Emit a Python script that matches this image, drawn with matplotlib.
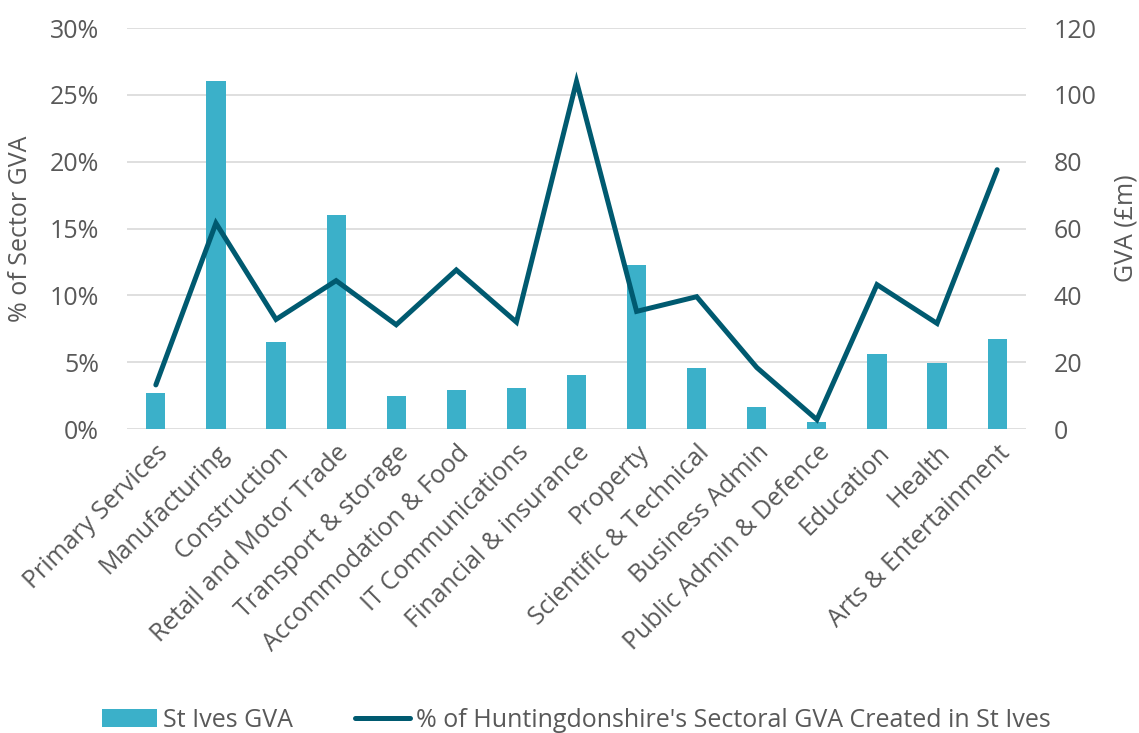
import numpy as np
import matplotlib.pyplot as plt
from matplotlib.ticker import FuncFormatter

plt.rcParams["font.family"] = ["Open Sans", "DejaVu Sans"]

# ------------------------------------------- data
sectors = [
    "Primary Services", "Manufacturing", "Construction", "Retail and Motor Trade",
    "Transport & storage", "Accommodation & Food", "IT Communications",
    "Financial & insurance", "Property", "Scientific & Technical",
    "Business Admin", "Public Admin & Defence", "Education", "Health",
    "Arts & Entertainment",
]
gva_m = [10.8, 104.2, 26.0, 64.1, 9.9, 11.6, 12.4, 16.2, 49.1, 18.2, 6.5, 2.1, 22.5, 19.7, 26.9]
pct_share = [3.3, 15.4, 8.2, 11.1, 7.8, 11.9, 8.0, 26.0, 8.8, 9.9, 4.6, 0.7, 10.8, 7.9, 19.4]

bar_label = "St Ives GVA"
line_label = "% of Huntingdonshire's Sectoral GVA Created in St Ives"

TEXT = "#595959"
BAR = "#3BB0C9"
LINE = "#005A70"
GRID = "#D9D9D9"
FS = 18

# ------------------------------------------- figure
fig = plt.figure(figsize=(11.39, 7.33), dpi=100, facecolor="white")
ax = fig.add_axes([0.1115, 0.4147, 0.7893, 0.5471])
ax2 = ax.twinx()

x = np.arange(len(sectors))

# bars on the right (GVA) axis, behind the line
ax2.bar(x, gva_m, width=0.32, color=BAR, zorder=3, label=bar_label)
ax2.set_ylim(0, 120)
ax2.set_yticks(np.arange(0, 121, 20))
ax2.grid(axis="y", color=GRID, linewidth=1.2, zorder=0)
ax2.set_axisbelow(True)
ax2.set_ylabel("GVA (£m)", color=TEXT, fontsize=FS)
ax2.yaxis.set_label_coords(1.097, 0.5)

# line on the left (%) axis
ax.plot(x, pct_share, color=LINE, linewidth=3.6, solid_capstyle="round",
        solid_joinstyle="miter", zorder=5, label=line_label)
ax.set_ylim(0, 30)
ax.set_yticks(np.arange(0, 31, 5))
ax.yaxis.set_major_formatter(FuncFormatter(lambda v, p: f"{v:.0f}%"))
ax.set_ylabel("% of Sector GVA", color=TEXT, fontsize=FS)
ax.yaxis.set_label_coords(-0.1046, 0.5)
ax.set_xlim(-0.48, len(sectors) - 0.52)
ax.set_xticks(x)
ax.set_xticklabels(sectors, rotation=45, ha="right", rotation_mode="anchor")

ax.set_zorder(ax2.get_zorder() + 1)
ax.patch.set_visible(False)

for a in (ax, ax2):
    for s in a.spines.values():
        s.set_visible(False)
    a.tick_params(length=0, labelsize=FS, colors=TEXT)
ax.tick_params(axis="y", pad=20)
ax2.tick_params(axis="y", pad=20)
ax.tick_params(axis="x", pad=8)

h1, l1 = ax2.get_legend_handles_labels()
h2, l2 = ax.get_legend_handles_labels()
fig.legend(h1 + h2, l1 + l2, loc="center", bbox_to_anchor=(0.506, 0.0177),
           ncol=2, frameon=False, fontsize=FS, labelcolor=TEXT,
           handlelength=2.2, handletextpad=0.25, columnspacing=2.5,
           borderpad=0, borderaxespad=0)

plt.savefig("out.png", dpi=100, facecolor="white")
